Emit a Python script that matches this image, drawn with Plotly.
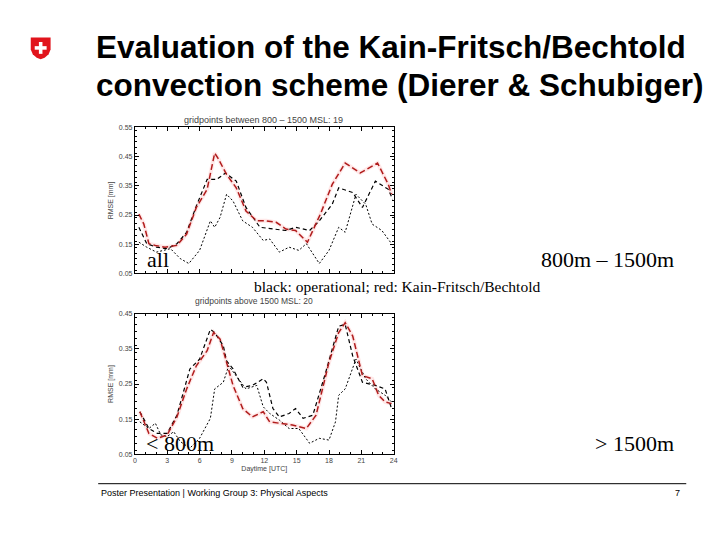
import plotly.graph_objects as go

W, H = 720, 540

# ---------- data: top panel (gridpoints between 800 - 1500 MSL) ----------
top_red_t = [0.37, 0.83, 1.3, 1.9, 2.8, 3.9, 4.8, 5.7, 6.7, 7.4, 7.7, 8.5, 9.4, 10.3, 11.3, 12.2,
             13.1, 14.0, 14.9, 16.0, 17.2, 18.3, 19.5, 20.9, 22.5, 23.5, 23.8]
top_red_v = [0.253, 0.219, 0.152, 0.146, 0.14, 0.146, 0.185, 0.276, 0.338, 0.462, 0.445, 0.389,
             0.343, 0.264, 0.23, 0.23, 0.225, 0.202, 0.197, 0.157, 0.253, 0.355, 0.428, 0.394,
             0.428, 0.355, 0.321]
top_op_t = [0.37, 1.1, 2.0, 3.0, 3.9, 4.8, 5.7, 6.7, 7.6, 8.4, 9.4, 10.3, 11.6, 12.8, 14.0, 14.9,
            16.2, 17.1, 18.3, 18.9, 20.2, 21.1, 22.3, 23.5, 23.9]
top_op_v = [0.208, 0.152, 0.14, 0.135, 0.152, 0.191, 0.281, 0.372, 0.372, 0.394, 0.366, 0.276,
            0.208, 0.202, 0.197, 0.208, 0.197, 0.23, 0.287, 0.343, 0.327, 0.276, 0.366, 0.338,
            0.304]
top_dot_t = [0.37, 1.1, 2.0, 3.3, 4.2, 5.0, 6.0, 7.0, 7.4, 7.9, 8.5, 9.1, 10.0, 10.9, 11.9, 12.5,
             13.4, 14.3, 15.2, 15.9, 17.1, 18.0, 18.9, 19.5, 20.5, 21.4, 22.0, 22.9, 23.8]
top_dot_v = [0.157, 0.14, 0.123, 0.135, 0.101, 0.084, 0.129, 0.23, 0.208, 0.242, 0.321, 0.298,
             0.23, 0.208, 0.163, 0.168, 0.123, 0.14, 0.129, 0.152, 0.084, 0.129, 0.208, 0.191,
             0.321, 0.287, 0.219, 0.197, 0.152]

# ---------- data: bottom panel (gridpoints above 1500 MSL) ----------
bot_red_t = [0.46, 1.3, 2.1, 3.0, 3.9, 4.8, 5.7, 6.7, 7.3, 7.9, 8.5, 9.1, 10.0, 10.9, 11.9, 12.5,
             13.4, 14.6, 15.9, 16.8, 18.0, 18.9, 19.5, 20.2, 21.1, 22.0, 22.6, 23.2, 23.8]
bot_red_v = [0.171, 0.109, 0.095, 0.105, 0.156, 0.236, 0.302, 0.345, 0.397, 0.378, 0.312, 0.246,
             0.18, 0.156, 0.171, 0.142, 0.138, 0.133, 0.123, 0.161, 0.312, 0.397, 0.425, 0.387,
             0.274, 0.265, 0.218, 0.199, 0.194]
bot_op_t = [0.46, 1.3, 2.1, 3.0, 3.9, 5.1, 6.0, 7.0, 7.4, 8.2, 8.5, 9.1, 10.0, 10.9, 11.9, 12.2,
            12.8, 13.4, 14.3, 14.9, 15.6, 16.5, 17.7, 18.9, 19.5, 20.2, 21.1, 22.3, 23.2, 23.8]
bot_op_v = [0.171, 0.123, 0.109, 0.109, 0.161, 0.293, 0.321, 0.406, 0.397, 0.359, 0.316, 0.293,
            0.241, 0.246, 0.265, 0.255, 0.18, 0.156, 0.166, 0.18, 0.152, 0.161, 0.284, 0.415,
            0.42, 0.33, 0.255, 0.246, 0.236, 0.18]
bot_dot_t = [0.46, 1.3, 1.9, 2.4, 3.0, 3.6, 4.2, 5.1, 6.0, 7.0, 7.4, 8.2, 8.7, 9.4, 10.3, 11.3,
             11.9, 12.5, 13.4, 14.3, 15.2, 16.2, 17.1, 18.0, 18.6, 18.9, 19.5, 20.5, 21.4, 22.3,
             23.2, 23.8]
bot_dot_v = [0.142, 0.123, 0.138, 0.105, 0.1, 0.114, 0.086, 0.067, 0.095, 0.152, 0.236, 0.255,
             0.302, 0.274, 0.236, 0.246, 0.185, 0.166, 0.147, 0.123, 0.123, 0.081, 0.095, 0.09,
             0.142, 0.218, 0.236, 0.321, 0.265, 0.236, 0.218, 0.199]

x_ticks = [0, 3, 6, 9, 12, 15, 18, 21, 24]
top_y_ticks = [0.05, 0.15, 0.25, 0.35, 0.45, 0.55]
bot_y_ticks = [0.05, 0.15, 0.25, 0.35, 0.45]

title_lines = ["Evaluation of the Kain-Fritsch/Bechtold", "convection scheme (Dierer & Schubiger)"]
top_title = "gridpoints between 800 \u2013 1500 MSL: 19"
bot_title = "gridpoints above 1500 MSL: 20"
legend_note = "black: operational; red: Kain-Fritsch/Bechtold"
footer = "Poster Presentation | Working Group 3: Physical Aspects"


def px(x):
    return x / W


def py(y):
    return 1 - y / H


fig = go.Figure()


def add_panel(xa, ya, red_t, red_v, op_t, op_v, dot_t, dot_v):
    common = dict(xaxis=xa, yaxis=ya, mode="lines", showlegend=False, hoverinfo="skip")
    fig.add_trace(go.Scatter(x=red_t, y=red_v, line=dict(color="rgba(255,150,150,0.22)", width=4), **common))
    fig.add_trace(go.Scatter(x=dot_t, y=dot_v, line=dict(color="black", width=1, dash="2px,2px"), **common))
    fig.add_trace(go.Scatter(x=op_t, y=op_v, line=dict(color="black", width=1.2, dash="4px,3px"), **common))
    fig.add_trace(go.Scatter(x=red_t, y=red_v, line=dict(color="#b01c1c", width=1.5, dash="6px,3px"), **common))


add_panel("x", "y", top_red_t, top_red_v, top_op_t, top_op_v, top_dot_t, top_dot_v)
add_panel("x2", "y2", bot_red_t, bot_red_v, bot_op_t, bot_op_v, bot_dot_t, bot_dot_v)

tickfont = dict(family="Liberation Sans", size=7, color="#444")
axis_common = dict(showgrid=False, zeroline=False, showline=True, linecolor="black", linewidth=1,
                   mirror="allticks", ticks="inside", ticklen=4, tickcolor="black",
                   tickfont=tickfont)
small = dict(family="Liberation Sans", size=7, color="#444")

fig.update_layout(
    width=W, height=H, margin=dict(l=0, r=0, t=0, b=0),
    paper_bgcolor="white", plot_bgcolor="white",
    xaxis=dict(domain=[px(134), px(395)], range=[0, 24], anchor="y", tickvals=x_ticks,
               showticklabels=False, minor=dict(ticks="inside", ticklen=2, dtick=1, tickcolor="black"),
               **axis_common),
    yaxis=dict(domain=[py(273), py(125)], range=[0.05, 0.55], anchor="x", tickvals=top_y_ticks,
               tickformat=".2f",
               minor=dict(ticks="inside", ticklen=2, dtick=0.02, tickcolor="black"),
               title=dict(text="RMSE [mm]", font=small, standoff=4),
               **axis_common),
    xaxis2=dict(domain=[px(134), px(395)], range=[0, 24], anchor="y2", tickvals=x_ticks,
                minor=dict(ticks="inside", ticklen=2, dtick=1, tickcolor="black"),
                title=dict(text="Daytime [UTC]", font=small, standoff=2),
                **axis_common),
    yaxis2=dict(domain=[py(456), py(314)], range=[0.05, 0.45], anchor="x2", tickvals=bot_y_ticks,
                tickformat=".2f",
                minor=dict(ticks="inside", ticklen=2, dtick=0.02, tickcolor="black"),
                title=dict(text="RMSE [mm]", font=small, standoff=4),
                **axis_common),
)

ann = []
for i, line in enumerate(title_lines):
    ann.append(dict(text="<b>" + line + "</b>", x=px(93), y=py(44 + 38 * i), xref="paper", yref="paper",
                    xanchor="left", yanchor="middle", showarrow=False,
                    font=dict(family="Liberation Sans", size=31.5, color="black")))
ann.append(dict(text=top_title, x=px(264), y=py(118), xref="paper", yref="paper", showarrow=False,
                xanchor="center", yanchor="middle", font=dict(family="Liberation Sans", size=9, color="#444")))
ann.append(dict(text=bot_title, x=px(254), y=py(301), xref="paper", yref="paper", showarrow=False,
                xanchor="center", yanchor="middle", font=dict(family="Liberation Sans", size=8.5, color="#444")))
times = dict(family="Liberation Serif", size=22, color="black")
ann.append(dict(text="all", x=px(144), y=py(259), xref="paper", yref="paper", showarrow=False,
                xanchor="left", yanchor="middle", font=times))
ann.append(dict(text="800m \u2013 1500m", x=px(680), y=py(259), xref="paper", yref="paper", showarrow=False,
                xanchor="right", yanchor="middle", font=times))
ann.append(dict(text="< 800m", x=px(143), y=py(445), xref="paper", yref="paper", showarrow=False,
                xanchor="left", yanchor="middle", font=times))
ann.append(dict(text="> 1500m", x=px(680), y=py(445), xref="paper", yref="paper", showarrow=False,
                xanchor="right", yanchor="middle", font=times))
ann.append(dict(text=legend_note, x=px(398), y=py(286), xref="paper", yref="paper", showarrow=False,
                xanchor="center", yanchor="middle",
                font=dict(family="Liberation Serif", size=15.5, color="black")))
ann.append(dict(text=footer, x=px(98), y=py(495), xref="paper", yref="paper", showarrow=False,
                xanchor="left", yanchor="middle", font=dict(family="Liberation Sans", size=9, color="black")))
ann.append(dict(text="7", x=px(686), y=py(495), xref="paper", yref="paper", showarrow=False,
                xanchor="right", yanchor="middle", font=dict(family="Liberation Sans", size=9, color="black")))
fig.update_layout(annotations=ann)

shield_pts = [(29, 34), (49, 34), (49, 46), (47, 51), (43, 54.5), (39, 56), (35, 54.5), (31, 51), (29, 46)]
path = "M " + " L ".join(f"{px(x):.5f},{py(y):.5f}" for x, y in shield_pts) + " Z"
cross_v = [(37.2, 38.5), (40.8, 38.5), (40.8, 50.5), (37.2, 50.5)]
cross_h = [(33, 42.7), (45, 42.7), (45, 46.3), (33, 46.3)]
shapes = [
    dict(type="line", xref="paper", yref="paper", x0=px(97), x1=px(690), y0=py(486), y1=py(486),
         line=dict(color="black", width=1)),
    dict(type="path", xref="paper", yref="paper", path=path, fillcolor="#e1141c", line=dict(width=0)),
    dict(type="path", xref="paper", yref="paper",
         path="M " + " L ".join(f"{px(x):.5f},{py(y):.5f}" for x, y in cross_v) + " Z",
         fillcolor="white", line=dict(width=0)),
    dict(type="path", xref="paper", yref="paper",
         path="M " + " L ".join(f"{px(x):.5f},{py(y):.5f}" for x, y in cross_h) + " Z",
         fillcolor="white", line=dict(width=0)),
]
fig.update_layout(shapes=shapes)

fig.write_html("out.html", config={"displayModeBar": False},
               post_script="document.body.style.margin='0';document.body.style.overflow='hidden';")
